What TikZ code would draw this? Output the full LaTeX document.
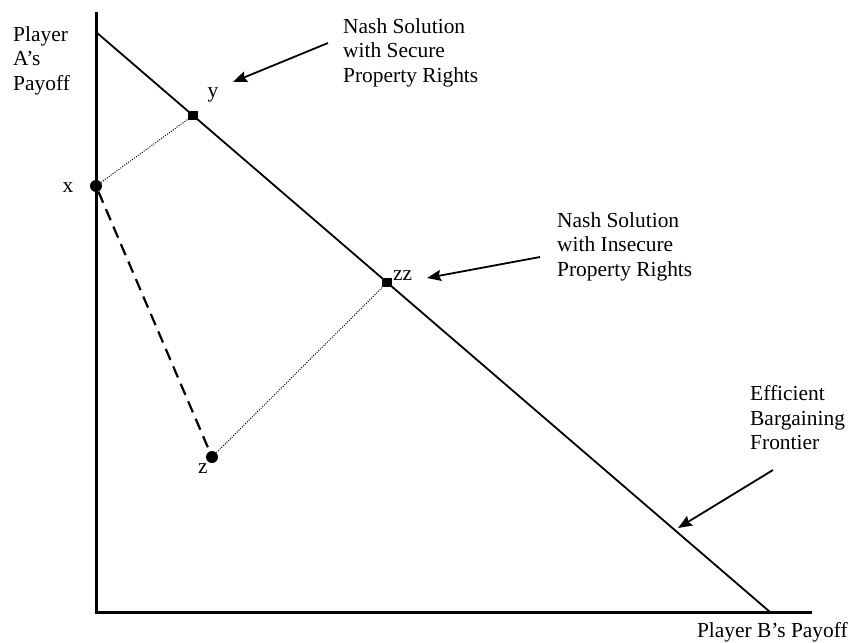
\documentclass[tikz,border=0pt]{standalone}
\usepackage{fontspec}
\setmainfont{Liberation Serif}
\usetikzlibrary{arrows.meta,calc}

\tikzset{
  axisline/.style={line width=3bp},
  frontier/.style={line width=1.8bp},
  dotpt/.style={circle,fill,inner sep=0pt,minimum size=12bp},
  sqpt/.style={rectangle,fill,inner sep=0pt,minimum size=9.5bp},
  dashline/.style={line width=2.2bp,dash pattern=on 12bp off 7bp},
  dotline/.style={line width=1bp,dash pattern=on 1bp off 1.4bp},
  pointer/.style={-{Stealth[length=14bp,width=11bp,inset=2bp]},line width=1.8bp},
  lbl/.style={font=\fontsize{21.5}{24.5}\selectfont,inner sep=0pt},
  note/.style={lbl,align=left,anchor=north west},
}

\begin{document}
\begin{tikzpicture}[x=1bp,y=-1bp]
\useasboundingbox (0,0) rectangle (849,643);

% axes
\coordinate (yTop) at (96,12);
\coordinate (origin) at (96,612);
\coordinate (xEnd) at (812,612);
\draw[axisline] (yTop) -- (origin) -- (xEnd);

% bargaining frontier
\coordinate (fTop) at (96,32);
\coordinate (fBot) at (770,612);
\draw[frontier] (fTop) -- (fBot);

% points
\node[dotpt] (x) at (96,186) {};
\node[sqpt] (y) at ($(fTop)!0.144!(fBot)$) {};
\node[sqpt] (zz) at ($(fTop)!0.432!(fBot)$) {};
\node[dotpt] (z) at (212,457) {};

\draw[dotline] (x) -- (y);
\draw[dotline] (z) -- (zz);
\draw[dashline] (x) -- (z);

% point labels
\node[lbl,anchor=base] (xlab) at (68,193) {x};
\node[lbl,anchor=base] (ylab) at (213,98) {y};
\node[lbl,anchor=base west] (zzlab) at (393,280) {zz};
\node[lbl,anchor=base] (zlab) at (203,473) {z};

% axis labels
\node[note] (alab) at (13,26.5) {Player\\A’s\\Payoff};
\node[lbl,anchor=base east] (blab) at (848,637) {Player B’s Payoff};

% notes and pointers
\node[note] (secure) at (343,18.5) {Nash Solution\\with Secure\\Property Rights};
\node[note] (insecure) at (557,212.5) {Nash Solution\\with Insecure\\Property Rights};
\node[note] (effic) at (750,385.5) {Efficient\\Bargaining\\Frontier};

\coordinate (secTail) at (328,43);
\coordinate (secHead) at (233,82);
\coordinate (insTail) at (540,257);
\coordinate (insHead) at (427,278);
\coordinate (froTail) at (773,470);
\coordinate (froHead) at (678,528);
\draw[pointer] (secTail) -- (secHead);
\draw[pointer] (insTail) -- (insHead);
\draw[pointer] (froTail) -- (froHead);
\end{tikzpicture}
\end{document}
